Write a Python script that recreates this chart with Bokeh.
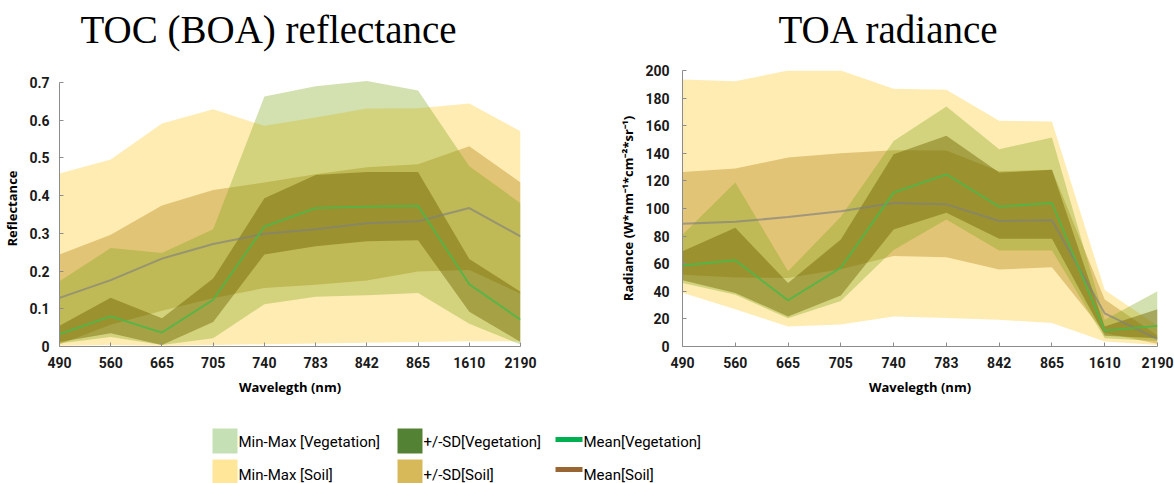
from bokeh.plotting import figure
from bokeh.models import Range1d, FixedTicker, ColumnDataSource
from bokeh.layouts import column, row
from bokeh.embed import file_html
from bokeh.resources import INLINE
from bokeh.core.properties import value

# ---------------- data ----------------
wavelengths = ["490", "560", "665", "705", "740", "783", "842", "865", "1610", "2190"]

# TOC (BOA) reflectance
veg_min_r   = [0.008, 0.025, 0.004, 0.022, 0.112, 0.132, 0.136, 0.142, 0.060, 0.005]
veg_max_r   = [0.173, 0.261, 0.248, 0.311, 0.663, 0.690, 0.704, 0.679, 0.478, 0.380]
veg_sdlo_r  = [0.012, 0.035, 0.004, 0.065, 0.244, 0.266, 0.279, 0.282, 0.092, 0.012]
veg_sdhi_r  = [0.055, 0.129, 0.075, 0.180, 0.393, 0.455, 0.463, 0.463, 0.232, 0.145]
veg_mean_r  = [0.033, 0.080, 0.037, 0.124, 0.318, 0.367, 0.371, 0.373, 0.165, 0.071]
soil_min_r  = [0.002, 0.004, 0.002, 0.004, 0.006, 0.008, 0.010, 0.012, 0.014, 0.014]
soil_max_r  = [0.459, 0.496, 0.591, 0.629, 0.585, 0.607, 0.631, 0.632, 0.644, 0.571]
soil_sdlo_r = [0.006, 0.058, 0.095, 0.128, 0.155, 0.164, 0.175, 0.199, 0.203, 0.140]
soil_sdhi_r = [0.244, 0.296, 0.374, 0.415, 0.435, 0.457, 0.475, 0.483, 0.531, 0.435]
soil_mean_r = [0.129, 0.176, 0.233, 0.272, 0.299, 0.311, 0.327, 0.332, 0.367, 0.292]

# TOA radiance
veg_min_l   = [46.0, 37.5, 20.5, 33.0, 70.0, 92.0, 69.6, 69.6, 6.0, 4.0]
veg_max_l   = [81.0, 118.8, 54.5, 94.0, 149.0, 174.0, 143.0, 151.5, 19.4, 40.0]
veg_sdlo_l  = [48.0, 38.8, 21.8, 37.0, 84.8, 97.0, 78.0, 78.0, 7.8, 6.0]
veg_sdhi_l  = [69.0, 86.0, 46.0, 77.6, 139.4, 152.7, 126.0, 128.0, 14.5, 27.0]
veg_mean_l  = [58.7, 62.5, 33.5, 57.0, 111.5, 124.8, 101.3, 104.0, 11.5, 15.0]
soil_min_l  = [39.0, 27.0, 14.5, 16.0, 21.8, 20.6, 19.4, 17.0, 3.6, 1.0]
soil_max_l  = [193.5, 192.2, 200.0, 200.0, 186.7, 186.0, 163.6, 163.0, 41.0, 15.0]
soil_sdlo_l = [52.0, 50.0, 49.7, 56.0, 65.5, 64.7, 55.8, 57.5, 9.7, 2.0]
soil_sdhi_l = [126.5, 129.0, 137.0, 140.0, 142.3, 142.0, 127.0, 128.0, 34.0, 8.0]
soil_mean_l = [89.0, 90.4, 93.8, 98.0, 104.0, 103.0, 90.9, 91.4, 24.0, 5.3]

yticks_r = [0, 0.1, 0.2, 0.3, 0.4, 0.5, 0.6, 0.7]
ytick_labels_r = ["0", "0.1", "0.2", "0.3", "0.4", "0.5", "0.6", "0.7"]
yticks_l = [0, 20, 40, 60, 80, 100, 120, 140, 160, 180, 200]
ytick_labels_l = [str(v) for v in yticks_l]

titles = ["TOC (BOA) reflectance", "TOA radiance"]
legend_labels = ["Min-Max [Vegetation]", "+/-SD[Vegetation]", "Mean[Vegetation]",
                 "Min-Max [Soil]", "+/-SD[Soil]", "Mean[Soil]"]
legend_colors = ["#C5E0B4", "#548235", "#00B050", "#FFE699", "#D8B95A", "#996633"]

# ---------------- styles / layout ----------------
SOIL_MM = ("#FFE699", 0.75)
SOIL_SD = ("#CDAA4B", 0.60)
VEG_MM = ("#82A51E", 0.35)
VEG_SD = ("#6E6400", 0.45)
TICK_FONT = "Roboto"
LABEL_FONT = "Open Sans"
AXIS_GREY = "#8c8c8c"
PAGE_W, PAGE_H = 1174, 483
TITLE_H = 56
CHART_H = 353
FRAME_TOP = 14          # frame top at page y 70
FRAME_H = 276           # frame bottom at page y 346
LEG_H = PAGE_H - TITLE_H - CHART_H

x = list(range(len(wavelengths)))


def make_chart(ymax, yend, yticks, ylabels, ylabel, data, width, mb_left, mb_right):
    vmin, vmax, vsdlo, vsdhi, vmean, smin, smax, ssdlo, ssdhi, smean = data
    p = figure(width=width, height=CHART_H, output_backend="svg", toolbar_location=None,
               x_range=Range1d(0, len(wavelengths) - 1), y_range=Range1d(0, yend),
               min_border_left=mb_left, min_border_right=mb_right,
               min_border_top=FRAME_TOP, min_border_bottom=CHART_H - FRAME_TOP - FRAME_H)

    p.varea(x=x, y1=smin, y2=smax, fill_color=SOIL_MM[0], fill_alpha=SOIL_MM[1])
    p.varea(x=x, y1=ssdlo, y2=ssdhi, fill_color=SOIL_SD[0], fill_alpha=SOIL_SD[1])
    p.varea(x=x, y1=vmin, y2=vmax, fill_color=VEG_MM[0], fill_alpha=VEG_MM[1])
    p.varea(x=x, y1=vsdlo, y2=vsdhi, fill_color=VEG_SD[0], fill_alpha=VEG_SD[1])
    p.line(x=x, y=smean, line_color="#808080", line_alpha=0.65, line_width=2)
    p.line(x=x, y=vmean, line_color="#4db848", line_alpha=0.9, line_width=1.8)

    p.xgrid.visible = False
    p.ygrid.visible = False
    p.outline_line_color = None

    p.xaxis.ticker = FixedTicker(ticks=x)
    p.xaxis.major_label_overrides = {i: w for i, w in enumerate(wavelengths)}
    p.yaxis.ticker = FixedTicker(ticks=yticks)
    p.yaxis.major_label_overrides = {t: l for t, l in zip(yticks, ylabels)}
    p.yaxis.bounds = (0, ymax)

    for ax in (p.xaxis, p.yaxis):
        ax.axis_line_color = AXIS_GREY
        ax.major_tick_line_color = AXIS_GREY
        ax.major_tick_in = 4
        ax.major_tick_out = 0
        ax.minor_tick_line_color = None
        ax.major_label_text_font = TICK_FONT
        ax.major_label_text_font_style = "bold"
        ax.major_label_text_font_size = "14px"
        ax.major_label_text_color = "#1a1a1a"
        ax.axis_label_text_font = LABEL_FONT
        ax.axis_label_text_font_style = "bold"
        ax.axis_label_text_font_size = "13px"
        ax.axis_label_text_color = "#000000"

    p.xaxis.axis_label = "Wavelegth (nm)"
    p.xaxis.major_label_standoff = 10
    p.xaxis.axis_label_standoff = 7
    p.yaxis.axis_label = ylabel
    p.yaxis.major_label_standoff = 10
    p.yaxis.axis_label_standoff = 5
    return p


# ---------------- title strip ----------------
pt = figure(width=PAGE_W, height=TITLE_H, output_backend="svg", toolbar_location=None,
            x_range=Range1d(0, PAGE_W), y_range=Range1d(TITLE_H, 0), min_border=0,
            x_axis_type=None, y_axis_type=None)
pt.xgrid.visible = False
pt.ygrid.visible = False
pt.outline_line_color = None
pt.text(x=[80, 778], y=[29, 29], text=titles, text_font=value("Liberation Serif"),
        text_font_size="39px", text_baseline="middle", text_align="left",
        text_color="#000000")

# ---------------- charts ----------------
# left: frame x 59..520, 0.7 at page y 82 ; right: frame x 682..1157, 200 at page y 70
p1 = make_chart(0.7, 0.7 * FRAME_H / (FRAME_H - 12), yticks_r, ytick_labels_r, "Reflectance",
                (veg_min_r, veg_max_r, veg_sdlo_r, veg_sdhi_r, veg_mean_r,
                 soil_min_r, soil_max_r, soil_sdlo_r, soil_sdhi_r, soil_mean_r),
                width=600, mb_left=59, mb_right=80)
p2 = make_chart(200, 200, yticks_l, ytick_labels_l,
                "Radiance (W*nm\u207b\u00b9*cm\u207b\u00b2*sr\u207b\u00b9)",
                (veg_min_l, veg_max_l, veg_sdlo_l, veg_sdhi_l, veg_mean_l,
                 soil_min_l, soil_max_l, soil_sdlo_l, soil_sdhi_l, soil_mean_l),
                width=574, mb_left=82, mb_right=17)
p2.yaxis.major_label_standoff = 13

# ---------------- legend ----------------
pl = figure(width=PAGE_W, height=LEG_H, output_backend="svg", toolbar_location=None,
            x_range=Range1d(0, PAGE_W), y_range=Range1d(LEG_H, 0), min_border=0,
            x_axis_type=None, y_axis_type=None)
pl.xgrid.visible = False
pl.ygrid.visible = False
pl.outline_line_color = None

col_x = [224.5, 409.5, 568.5]
text_x = [238, 423, 583]
row_y = [31.4, 62.5]
text_y = [32, 65]
line_y = [30, 60]

sq = ColumnDataSource(dict(
    x=[col_x[0], col_x[1], col_x[0], col_x[1]],
    y=[row_y[0], row_y[0], row_y[1], row_y[1]],
    c=[legend_colors[0], legend_colors[1], legend_colors[3], legend_colors[4]]))
pl.rect(x="x", y="y", width=25, height=25, width_units="screen", height_units="screen",
        fill_color="c", line_color=None, source=sq)

ln = ColumnDataSource(dict(
    x0=[col_x[2] - 13.5, col_x[2] - 13.5], x1=[col_x[2] + 13.5, col_x[2] + 13.5],
    y=line_y, c=[legend_colors[2], legend_colors[5]]))
pl.segment(x0="x0", y0="y", x1="x1", y1="y", line_color="c", line_width=5, source=ln)

tx = ColumnDataSource(dict(
    x=[text_x[0], text_x[1], text_x[2], text_x[0], text_x[1], text_x[2]],
    y=[text_y[0]] * 3 + [text_y[1]] * 3,
    t=legend_labels))
pl.text(x="x", y="y", text="t", text_font=value("Roboto"), text_font_size="15px",
        text_baseline="middle", text_align="left", text_color="#000000", source=tx)

layout = column(pt, row(p1, p2), pl)
open("out.html", "w").write(file_html(layout, INLINE))
